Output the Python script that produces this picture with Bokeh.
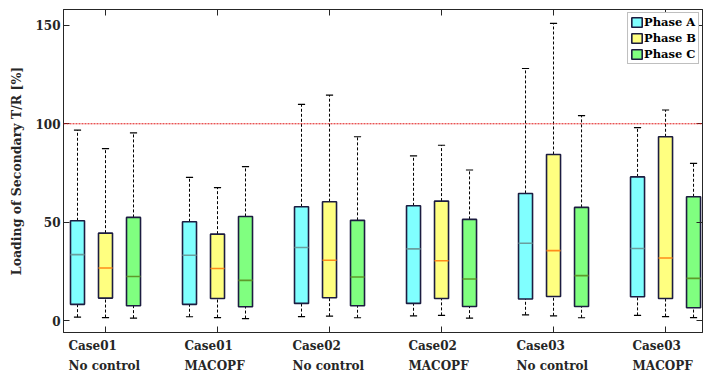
from bokeh.plotting import figure
from bokeh.layouts import column
from bokeh.models import (ColumnDataSource, LinearAxis, FixedTicker, Span,
                          Legend, LegendItem, Range1d)
from bokeh.core.properties import value
from bokeh.embed import file_html
from bokeh.resources import INLINE

# ---------------- data ----------------
case_names = ["Case01", "Case01", "Case02", "Case02", "Case03", "Case03"]
control_names = ["No control", "MACOPF", "No control", "MACOPF", "No control", "MACOPF"]
phases = ["Phase A", "Phase B", "Phase C"]

upper_A = [96.8, 72.8, 109.9, 83.7, 128.1, 98.0]
q3_A = [50.7, 50.2, 57.8, 58.3, 64.6, 73.0]
med_A = [33.5, 33.2, 37.1, 36.4, 39.3, 36.6]
q1_A = [8.2, 8.2, 8.7, 8.7, 10.9, 12.1]
low_A = [1.7, 1.9, 2.0, 2.4, 2.9, 2.6]

upper_B = [87.4, 67.5, 114.6, 89.1, 151.0, 107.0]
q3_B = [44.4, 43.9, 60.4, 60.7, 84.4, 93.4]
med_B = [26.7, 26.4, 30.6, 30.4, 35.5, 31.8]
q1_B = [11.4, 11.2, 11.6, 11.2, 12.2, 11.2]
low_B = [1.5, 1.5, 2.2, 2.6, 2.4, 2.0]

upper_C = [95.4, 78.2, 93.4, 76.5, 104.2, 79.9]
q3_C = [52.4, 52.9, 50.9, 51.4, 57.5, 62.9]
med_C = [22.4, 20.4, 22.1, 21.1, 22.8, 21.4]
q1_C = [7.5, 7.0, 7.5, 7.1, 7.1, 6.5]
low_C = [1.2, 1.0, 1.4, 1.2, 1.4, 1.5]

limit = 100
y_ticks = [0, 50, 100, 150]
y_label = "Loading of Secondary T/R [%]"

# ---------------- styles ----------------
FONT = "DejaVu Serif"
AXC = "#262626"
fills = ["#80ffff", "#ffff80", "#80ff80"]
med_colors = ["#6a9e9e", "#ff8c1a", "#5e9a2a"]
offsets = [-0.25, 0.0, 0.25]
box_w = 0.125
cap_half = 0.032

x_rng = Range1d(0.625, 6.33)
fig = figure(width=703, height=333, output_backend="svg", toolbar_location=None,
             x_range=x_rng, y_range=Range1d(-6.1, 158.1),
             min_border_left=63, min_border_right=1, min_border_top=9,
             min_border_bottom=1)
fig.xgrid.visible = False
fig.ygrid.visible = False
fig.background_fill_color = "white"
fig.outline_line_color = AXC

groups = list(range(1, len(case_names) + 1))
data = [
    (upper_A, q3_A, med_A, q1_A, low_A),
    (upper_B, q3_B, med_B, q1_B, low_B),
    (upper_C, q3_C, med_C, q1_C, low_C),
]

# reference line
fig.add_layout(Span(location=limit, dimension="width", line_color="#e01010",
                    line_dash="2 1", line_width=1))

legend_items = []
for k, (up, q3, md, q1, lo) in enumerate(data):
    xs = [g + offsets[k] for g in groups]
    src = ColumnDataSource(dict(
        x=xs, up=up, q3=q3, md=md, q1=q1, lo=lo,
        xl=[x - box_w / 2 for x in xs], xr=[x + box_w / 2 for x in xs],
        cl=[x - cap_half for x in xs], cr=[x + cap_half for x in xs],
    ))
    fig.segment(x0="x", y0="q3", x1="x", y1="up", source=src, line_color="black",
                line_dash="3 2", line_width=1)
    fig.segment(x0="x", y0="lo", x1="x", y1="q1", source=src, line_color="black",
                line_dash="3 2", line_width=1)
    fig.segment(x0="cl", y0="up", x1="cr", y1="up", source=src, line_color="black", line_width=1.2)
    fig.segment(x0="cl", y0="lo", x1="cr", y1="lo", source=src, line_color="black", line_width=1.2)
    r = fig.vbar(x="x", width=box_w, top="q3", bottom="q1", source=src,
                 fill_color=fills[k], line_color="#1c1c40", line_width=1.6)
    fig.segment(x0="xl", y0="md", x1="xr", y1="md", source=src,
                line_color=med_colors[k], line_width=1.6)
    legend_items.append(LegendItem(label=phases[k], renderers=[r]))

# axes
fig.xaxis.ticker = FixedTicker(ticks=groups)
fig.xaxis.major_label_overrides = {g: "" for g in groups}
fig.xaxis.major_label_standoff = 0
fig.yaxis.ticker = FixedTicker(ticks=y_ticks)
for ax in [fig.xaxis[0], fig.yaxis[0]]:
    ax.major_tick_in = 6
    ax.major_tick_out = 0
    ax.minor_tick_line_color = None
    ax.axis_line_color = AXC
    ax.major_tick_line_color = AXC
fig.yaxis.major_label_text_font = FONT
fig.yaxis.major_label_text_font_style = "bold"
fig.yaxis.major_label_text_font_size = "12px"
fig.yaxis.major_label_text_color = AXC
fig.yaxis.major_label_standoff = 3
fig.yaxis.axis_label = y_label
fig.yaxis.axis_label_text_font = FONT
fig.yaxis.axis_label_text_font_style = "bold"
fig.yaxis.axis_label_text_font_size = "12.5px"
fig.yaxis.axis_label_text_color = AXC
fig.yaxis.axis_label_standoff = 8

top_ax = LinearAxis(ticker=FixedTicker(ticks=groups), major_tick_in=6, major_tick_out=0,
                    minor_tick_line_color=None,
                    major_label_overrides={g: "" for g in groups},
                    major_label_standoff=0, axis_line_color=AXC,
                    major_tick_line_color=AXC)
right_ax = LinearAxis(ticker=FixedTicker(ticks=y_ticks), major_tick_in=6, major_tick_out=0,
                      minor_tick_line_color=None,
                      major_label_overrides={t: "" for t in y_ticks},
                      major_label_standoff=0, axis_line_color=AXC,
                      major_tick_line_color=AXC)
fig.add_layout(top_ax, "above")
fig.add_layout(right_ax, "right")

legend = Legend(items=legend_items, location="top_right", label_text_font=FONT,
                label_text_font_style="bold", label_text_font_size="11.5px",
                label_text_color="black", glyph_width=13, glyph_height=12,
                label_height=12, label_standoff=1, spacing=2, padding=2, margin=3,
                border_line_color="#808080", border_line_width=1.5,
                background_fill_alpha=1)
fig.add_layout(legend)

# ---------------- category labels strip (two left-aligned lines) ----------------
lab = figure(width=703, height=41, output_backend="svg", toolbar_location=None,
             x_range=x_rng, y_range=Range1d(0, 41),
             x_axis_location=None, y_axis_location=None,
             min_border_left=63, min_border_right=1, min_border_top=0,
             min_border_bottom=0)
lab.xgrid.visible = False
lab.ygrid.visible = False
lab.outline_line_color = None
label_px_offsets = [-37 if c == "No control" else -33 for c in control_names]
lab_src = ColumnDataSource(dict(x=groups, off=label_px_offsets,
                                l1=case_names, l2=control_names))
for col, yy in [("l1", 36), ("l2", 16)]:
    lab.text(x="x", y=yy, text=col, x_offset="off", source=lab_src,
             text_font=value(FONT), text_font_style="bold", text_font_size="12px",
             text_color=AXC, text_align="left", text_baseline="top")

p = column(fig, lab, spacing=0)
open("out.html", "w").write(file_html(p, INLINE))
